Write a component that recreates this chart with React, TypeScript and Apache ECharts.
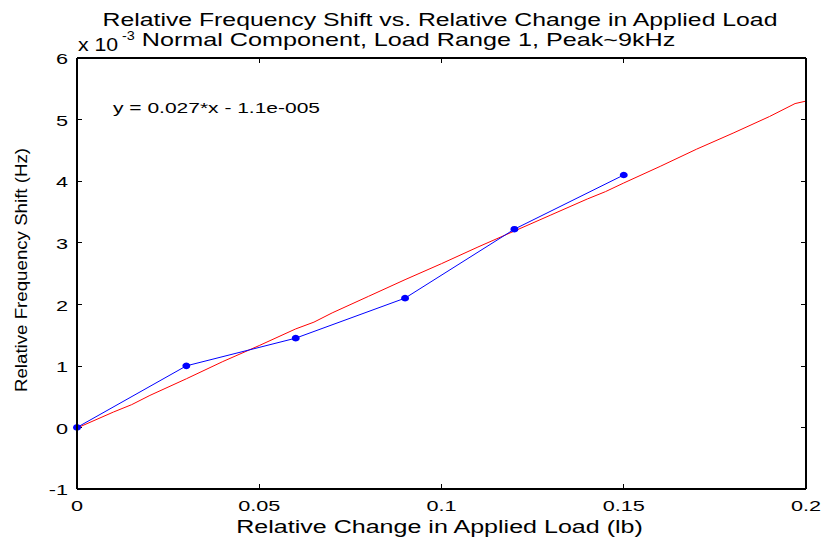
import React, { useEffect, useRef } from "react";
import * as echarts from "echarts";

// Measured points (relative load change, frequency shift ×1e-3)
const loadX = [0, 0.03, 0.06, 0.09, 0.12, 0.15];
const shiftY = [0, 1.0, 1.45, 2.1, 3.22, 4.1];

// Linear-fit trace (×1e-3)
const fitX = [0, 0.01, 0.015, 0.02, 0.03, 0.04, 0.05, 0.06, 0.065, 0.07, 0.08, 0.09, 0.1, 0.11, 0.12, 0.13, 0.14, 0.145, 0.15, 0.16, 0.17, 0.18, 0.19, 0.197, 0.2];
const fitY = [-0.01, 0.25, 0.37, 0.52, 0.79, 1.07, 1.33, 1.6, 1.71, 1.86, 2.13, 2.4, 2.66, 2.93, 3.19, 3.45, 3.71, 3.83, 3.97, 4.24, 4.52, 4.78, 5.05, 5.26, 5.3];

const xTicks = [0, 0.05, 0.1, 0.15, 0.2];
const xTickLabels = ["0", "0.05", "0.1", "0.15", "0.2"];
const yTicks = [-1, 0, 1, 2, 3, 4, 5, 6];
const yTickLabels = ["-1", "0", "1", "2", "3", "4", "5", "6"];

const titleLine1 = "Relative Frequency Shift vs. Relative Change in Applied Load";
const titleLine2 = "Normal Component, Load Range 1, Peak~9kHz";
const xLabel = "Relative Change in Applied Load (lb)";
const yLabel = "Relative Frequency Shift (Hz)";
const fitLabel = "y = 0.027*x - 1.1e-005";

const FONT = "Liberation Sans, Arial, Helvetica, sans-serif";

export default function App() {
  const ref = useRef<HTMLDivElement>(null);
  useEffect(() => {
    const chart = echarts.init(ref.current!, null, { renderer: "svg" });
    const mkAxisLine = () => ({ show: false, onZero: false });
    const mkTick = () => ({ show: true, inside: true, length: 5, lineStyle: { color: "#000", width: 1 } });
    chart.setOption({
      animation: false,
      backgroundColor: "#fff",
      textStyle: { fontFamily: FONT },
      grid: { left: 77, top: 58, width: 729, height: 431, show: false },
      xAxis: [
        {
          type: "value",
          min: 0,
          max: 0.2,
          interval: 0.05,
          axisLine: mkAxisLine(),
          axisTick: mkTick(),
          splitLine: { show: false },
          axisLabel: { show: false },
        },
        {
          type: "value",
          position: "top",
          min: 0,
          max: 0.2,
          interval: 0.05,
          axisLine: mkAxisLine(),
          axisTick: mkTick(),
          axisLabel: { show: false },
          splitLine: { show: false },
        },
      ],
      yAxis: [
        {
          type: "value",
          min: -1,
          max: 6,
          interval: 1,
          axisLine: mkAxisLine(),
          axisTick: mkTick(),
          splitLine: { show: false },
          axisLabel: { show: false },
        },
        {
          type: "value",
          position: "right",
          min: -1,
          max: 6,
          interval: 1,
          axisLine: mkAxisLine(),
          axisTick: mkTick(),
          axisLabel: { show: false },
          splitLine: { show: false },
        },
      ],
      series: [
        {
          type: "line",
          data: fitX.map((x, i) => [x, fitY[i]]),
          showSymbol: false,
          symbol: "none",
          lineStyle: { color: "#ff0000", width: 1 },
          z: 2,
        },
        {
          type: "line",
          data: loadX.map((x, i) => [x, shiftY[i]]),
          symbol: "circle",
          symbolSize: [8, 6.5],
          itemStyle: { color: "#0000ff" },
          lineStyle: { color: "#0000ff", width: 1 },
          z: 3,
        },
      ],
    });

    // Frame, tick labels and texts, placed from the axis scales
    const px = (v: number) => chart.convertToPixel({ xAxisIndex: 0 }, v) as number;
    const py = (v: number) => chart.convertToPixel({ yAxisIndex: 0 }, v) as number;
    const bottom = py(yTicks[0]);
    const top = py(yTicks[yTicks.length - 1]);
    const left = px(xTicks[0]);
    const right = px(xTicks[xTicks.length - 1]);
    const tickFont = `15.5px ${FONT}`;
    const txt = (x: number, y: number, text: string, font: string, sx: number, align = "center", extra: any = {}) => ({
      type: "text",
      x,
      y,
      scaleX: sx,
      ...extra,
      style: { text, font, fill: "#000", align, verticalAlign: "middle" },
    });
    const edge = (x1: number, y1: number, x2: number, y2: number) => ({
      type: "line",
      z: 10,
      shape: { x1, y1, x2, y2 },
      style: { stroke: "#000", lineWidth: 2 },
    });

    chart.setOption({
      graphic: [
        edge(left, top, right, top),
        edge(right, top, right, bottom),
        edge(left, bottom, right, bottom),
        edge(left, top, left, bottom),
        ...xTicks.map((v, i) => txt(px(v), bottom + 17, xTickLabels[i], tickFont, 1.4)),
        ...yTicks.map((v, i) => txt(left - 9, py(v) + 1, yTickLabels[i], tickFont, 1.4, "right")),
        txt(440, 19.5, titleLine1, `18.5px ${FONT}`, 1.34),
        txt(408.5, 40, titleLine2, `18.5px ${FONT}`, 1.36),
        txt(78, 44.5, "x 10", `18.5px ${FONT}`, 1.15, "left"),
        txt(122, 36, "-3", `12px ${FONT}`, 1.2, "left"),
        txt(113, 108.5, fitLabel, `14px ${FONT}`, 1.5, "left"),
        txt(439.5, 526.5, xLabel, `18.5px ${FONT}`, 1.355),
        txt(21, 270, yLabel, `17px ${FONT}`, 1.1, "center", { rotation: Math.PI / 2 }),
      ],
    });
    return () => chart.dispose();
  }, []);
  return <div ref={ref} style={{ position: "absolute", left: 0, top: 0, width: 823, height: 537 }} />;
}
